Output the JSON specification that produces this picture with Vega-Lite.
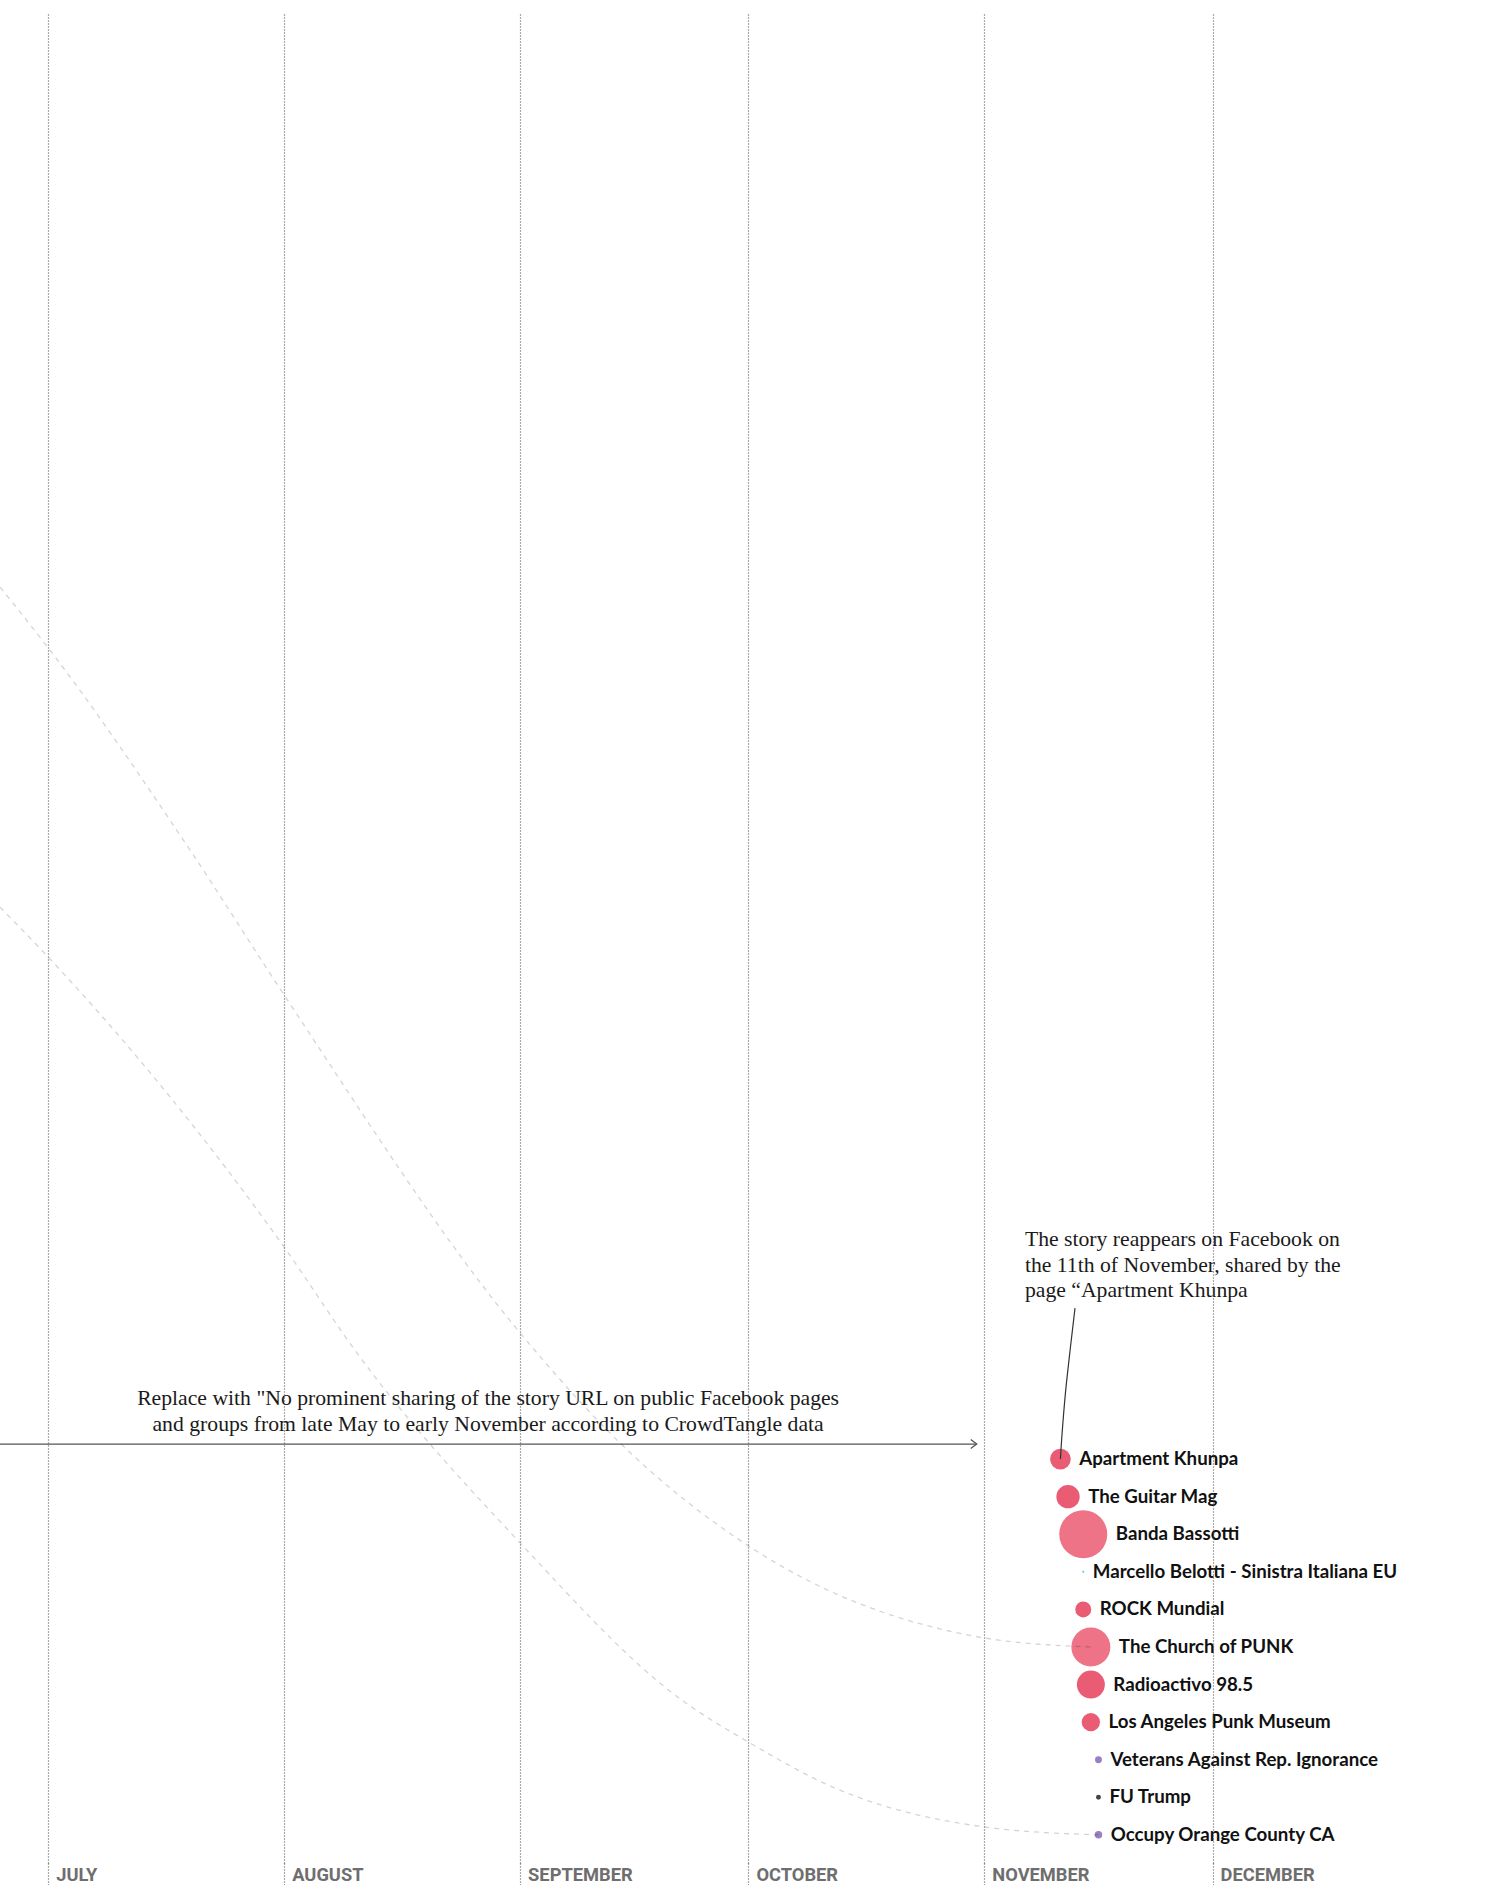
{
  "$schema": "https://vega.github.io/schema/vega-lite/v6.json",
  "width": 1490,
  "height": 1850,
  "autosize": {"type": "none"},
  "padding": {"left": 0, "top": 13, "right": 0, "bottom": 22},
  "background": "#ffffff",
  "config": {"view": {"stroke": null}},
  "datasets": {
    "pages": [
      {"page": "Apartment Khunpa", "date": "2020-11-11", "row": 1, "interactions": 107, "category": "Music page"},
      {"page": "The Guitar Mag", "date": "2020-11-12", "row": 2, "interactions": 136, "category": "Music page"},
      {"page": "Banda Bassotti", "date": "2020-11-14", "row": 3, "interactions": 576, "category": "Music page (large)"},
      {"page": "Marcello Belotti - Sinistra Italiana EU", "date": "2020-11-14", "row": 4, "interactions": 1, "category": "Politics (Italy)"},
      {"page": "ROCK Mundial", "date": "2020-11-14", "row": 5, "interactions": 64, "category": "Music page"},
      {"page": "The Church of PUNK", "date": "2020-11-15", "row": 6, "interactions": 380, "category": "Music page (large)"},
      {"page": "Radioactivo 98.5", "date": "2020-11-15", "row": 7, "interactions": 196, "category": "Music page"},
      {"page": "Los Angeles Punk Museum", "date": "2020-11-15", "row": 8, "interactions": 84, "category": "Music page"},
      {"page": "Veterans Against Rep. Ignorance", "date": "2020-11-16", "row": 9, "interactions": 12, "category": "Politics (US)"},
      {"page": "FU Trump", "date": "2020-11-16", "row": 10, "interactions": 6, "category": "Other"},
      {"page": "Occupy Orange County CA", "date": "2020-11-16", "row": 11, "interactions": 14, "category": "Politics (US)"}
    ],
    "curves": [
      {"curve": "c1", "seq": 1, "date": "2020-06-24T15:40:00Z", "row": -22.21},
      {"curve": "c1", "seq": 2, "date": "2020-07-01T00:00:00Z", "row": -20.59},
      {"curve": "c1", "seq": 3, "date": "2020-07-19T15:00:00Z", "row": -15.21},
      {"curve": "c1", "seq": 4, "date": "2020-08-01T00:00:00Z", "row": -11.35},
      {"curve": "c1", "seq": 5, "date": "2020-09-01T00:00:00Z", "row": -2.36},
      {"curve": "c1", "seq": 6, "date": "2020-09-14T03:00:00Z", "row": 0.57},
      {"curve": "c1", "seq": 7, "date": "2020-10-01T00:00:00Z", "row": 3.31},
      {"curve": "c1", "seq": 8, "date": "2020-11-01T00:00:00Z", "row": 5.76},
      {"curve": "c1", "seq": 9, "date": "2020-11-15T00:00:00Z", "row": 6},
      {"curve": "c2", "seq": 1, "date": "2020-06-24T15:40:00Z", "row": -13.69},
      {"curve": "c2", "seq": 2, "date": "2020-07-01T00:00:00Z", "row": -12.36},
      {"curve": "c2", "seq": 3, "date": "2020-08-01T00:00:00Z", "row": -4.64},
      {"curve": "c2", "seq": 4, "date": "2020-08-10T07:00:00Z", "row": -1.9},
      {"curve": "c2", "seq": 5, "date": "2020-09-01T00:00:00Z", "row": 3.23},
      {"curve": "c2", "seq": 6, "date": "2020-09-22T05:00:00Z", "row": 7.41},
      {"curve": "c2", "seq": 7, "date": "2020-10-01T00:00:00Z", "row": 8.53},
      {"curve": "c2", "seq": 8, "date": "2020-10-12T02:00:00Z", "row": 9.73},
      {"curve": "c2", "seq": 9, "date": "2020-11-01T00:00:00Z", "row": 10.79},
      {"curve": "c2", "seq": 10, "date": "2020-11-16T00:00:00Z", "row": 11}
    ],
    "connector": [
      {"seq": 1, "date": "2020-11-12T22:00:00Z", "row": -3.02},
      {"seq": 2, "date": "2020-11-11T19:00:00Z", "row": -1.03},
      {"seq": 3, "date": "2020-11-11T06:00:00Z", "row": 0.23},
      {"seq": 4, "date": "2020-11-11T00:00:00Z", "row": 1}
    ],
    "arrow": [
      {"start": "2020-06-20T00:00:00Z", "end": "2020-10-31T00:00:00Z", "row": 0.6}
    ],
    "notes_left": [
      {"date": "2020-11-06T08:00:00Z", "row": -4.67, "lines": ["The story reappears on Facebook on", "the 11th of November, shared by the", "page “Apartment Khunpa"]}
    ],
    "notes_center": [
      {"date": "2020-08-27T19:00:00Z", "row": -0.44, "lines": ["Replace with \"No prominent sharing of the story URL on public Facebook pages", "and groups from late May to early November according to CrowdTangle data"]}
    ]
  },
  "encoding": {
    "x": {
      "field": "date",
      "type": "temporal",
      "scale": {
        "type": "utc",
        "domain": [
          {"year": 2020, "month": "jun", "date": 24, "hours": 15, "minutes": 40, "utc": true},
          {"year": 2021, "month": "jan", "date": 6, "hours": 10, "minutes": 48, "utc": true}
        ]
      },
      "axis": {
        "orient": "bottom",
        "title": null,
        "values": [
          {"year": 2020, "month": "jul", "date": 1, "utc": true},
          {"year": 2020, "month": "aug", "date": 1, "utc": true},
          {"year": 2020, "month": "sep", "date": 1, "utc": true},
          {"year": 2020, "month": "oct", "date": 1, "utc": true},
          {"year": 2020, "month": "nov", "date": 1, "utc": true},
          {"year": 2020, "month": "dec", "date": 1, "utc": true}
        ],
        "labelExpr": "upper(utcFormat(datum.value, '%B'))",
        "domain": false,
        "grid": true,
        "gridColor": "#555555",
        "gridDash": [1, 2],
        "gridWidth": 1.2,
        "ticks": true,
        "tickSize": 22,
        "tickColor": "#555555",
        "tickDash": [1, 2],
        "tickWidth": 1.2,
        "labelAlign": "left",
        "labelBaseline": "alphabetic",
        "labelPadding": -5,
        "labelOffset": 7.5,
        "labelFont": "Roboto",
        "labelFontWeight": "bold",
        "labelFontSize": 18.3,
        "labelColor": "#6e6e6e",
        "labelFlush": false,
        "labelOverlap": false,
        "labelBound": false,
        "zindex": 1
      }
    },
    "y": {
      "field": "row",
      "type": "quantitative",
      "scale": {"domain": [-37.49, 11.75], "reverse": true, "zero": false, "nice": false},
      "axis": null
    }
  },
  "layer": [
    {
      "data": {"name": "arrow"},
      "mark": {"type": "rule", "color": "#555555", "strokeWidth": 1.4, "clip": true},
      "encoding": {
        "x": {"field": "start", "type": "temporal"},
        "x2": {"field": "end"},
        "y": {"field": "row", "type": "quantitative"}
      }
    },
    {
      "data": {"name": "arrow"},
      "mark": {"type": "point", "shape": "M-1,-0.75L0,0L-1,0.75", "filled": false, "stroke": "#555555", "strokeWidth": 1.3, "size": 144, "opacity": 1},
      "encoding": {
        "x": {"field": "end", "type": "temporal"},
        "y": {"field": "row", "type": "quantitative"}
      }
    },
    {
      "data": {"name": "notes_center"},
      "mark": {"type": "text", "align": "center", "baseline": "alphabetic", "font": "Liberation Serif", "fontSize": 21.7, "lineHeight": 25.5, "color": "#1a1a1a"},
      "encoding": {"text": {"field": "lines", "type": "nominal"}}
    },
    {
      "data": {"name": "notes_left"},
      "mark": {"type": "text", "align": "left", "baseline": "alphabetic", "font": "Liberation Serif", "fontSize": 21.7, "lineHeight": 25.5, "color": "#1a1a1a"},
      "encoding": {"text": {"field": "lines", "type": "nominal"}}
    },
    {
      "data": {"name": "pages"},
      "mark": {"type": "circle", "opacity": 1},
      "encoding": {
        "size": {"field": "interactions", "type": "quantitative", "scale": {"type": "linear", "domain": [0, 600], "range": [0, 2400], "zero": true}, "legend": null},
        "color": {
          "field": "category",
          "type": "nominal",
          "scale": {
            "domain": ["Music page", "Music page (large)", "Politics (Italy)", "Politics (US)", "Other"],
            "range": ["#e95c74", "#ee7386", "#5bc0e8", "#9a7fc2", "#444444"]
          },
          "legend": null
        }
      }
    },
    {
      "data": {"name": "curves"},
      "mark": {"type": "line", "interpolate": "monotone", "stroke": "#000000", "strokeOpacity": 0.17, "strokeWidth": 1.3, "strokeDash": [5, 5], "clip": true},
      "encoding": {
        "detail": {"field": "curve", "type": "nominal"},
        "order": {"field": "seq", "type": "quantitative"}
      }
    },
    {
      "data": {"name": "connector"},
      "mark": {"type": "line", "interpolate": "cardinal", "stroke": "#333333", "strokeWidth": 1.2},
      "encoding": {
        "order": {"field": "seq", "type": "quantitative"}
      }
    },
    {
      "data": {"name": "pages"},
      "mark": {"type": "text", "align": "left", "baseline": "middle", "font": "Lato", "fontWeight": "bold", "fontSize": 18.7, "color": "#111111", "dx": {"expr": "sqrt(scale('size', datum.interactions)) / 2 + 8.5"}},
      "encoding": {"text": {"field": "page", "type": "nominal"}}
    }
  ]
}
